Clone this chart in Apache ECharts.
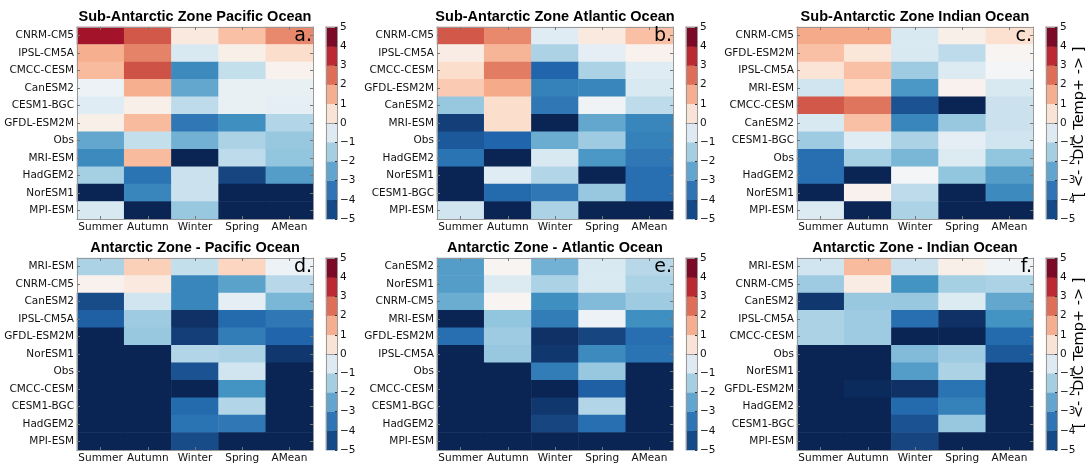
<!DOCTYPE html>
<html>
<head>
<meta charset="utf-8">
<script src="https://cdn.jsdelivr.net/npm/echarts@6/dist/echarts.min.js"></script>
<style>
  html, body { margin: 0; background: #fff; }
  #chart { width: 1091px; height: 466px; }
</style>
</head>
<body>
<div id="chart"></div>
<script>
const seasons = ["Summer", "Autumn", "Winter", "Spring", "AMean"];

const titles = [
  "Sub-Antarctic Zone Pacific Ocean",
  "Sub-Antarctic Zone Atlantic Ocean",
  "Sub-Antarctic Zone Indian Ocean",
  "Antarctic Zone - Pacific Ocean",
  "Antarctic Zone - Atlantic Ocean",
  "Antarctic Zone - Indian Ocean",
];
const letters = ["a.", "b.", "c.", "d.", "e.", "f."];
const sideLabel = "[ <- -DIC Temp+ -> ]";

// rows top to bottom, values per season
const rowsA = ["CNRM-CM5", "IPSL-CM5A", "CMCC-CESM", "CanESM2", "CESM1-BGC", "GFDL-ESM2M", "Obs", "MRI-ESM", "HadGEM2", "NorESM1", "MPI-ESM"];
const valsA = [
  [4.2, 3.1, 0.5, 1.5, 2.4],
  [1.8, 2.5, -0.8, 0.3, 0.9],
  [1.6, 3.2, -3.2, -1.2, 0.2],
  [-0.3, 1.8, -2.6, -0.4, -0.4],
  [-0.6, 0.3, -1.3, -0.4, -0.5],
  [0.3, 1.6, -3.6, -3.1, -1.5],
  [-2.6, -1.2, -2.4, -1.6, -1.9],
  [-3.2, 1.6, -5, -1.3, -2.0],
  [-1.7, -3.7, -1.1, -4.5, -2.8],
  [-5, -3.3, -1.1, -5, -5],
  [-0.8, -5, -1.9, -5, -5],
];

const rowsB = ["CNRM-CM5", "IPSL-CM5A", "CMCC-CESM", "GFDL-ESM2M", "CanESM2", "MRI-ESM", "Obs", "HadGEM2", "NorESM1", "CESM1-BGC", "MPI-ESM"];
const valsB = [
  [3.1, 2.4, -0.6, 0.5, 1.5],
  [0.4, 1.7, -1.6, -0.5, 0.2],
  [0.9, 2.6, -4.0, -1.6, -0.6],
  [1.3, 1.9, -3.4, -3.3, -0.8],
  [-1.9, 0.9, -3.6, -0.2, -1.3],
  [-4.6, 0.9, -5, -2.6, -3.3],
  [-4.2, -4.0, -2.5, -1.8, -3.4],
  [-3.7, -5, -0.8, -2.9, -3.6],
  [-5, -0.6, -1.5, -5, -3.8],
  [-5, -3.9, -3.6, -1.9, -3.8],
  [-1.0, -5, -1.6, -5, -5],
];

const rowsC = ["CNRM-CM5", "GFDL-ESM2M", "IPSL-CM5A", "MRI-ESM", "CMCC-CESM", "CanESM2", "CESM1-BGC", "Obs", "HadGEM2", "NorESM1", "MPI-ESM"];
const valsC = [
  [1.9, 1.9, -0.8, 0.3, 0.8],
  [1.5, 0.6, -0.8, -1.3, 0.1],
  [0.7, 1.5, -1.8, -0.7, -0.1],
  [-1.0, 1.0, -2.9, 0.2, -0.8],
  [3.1, 2.7, -4.3, -5, -1.1],
  [-0.8, 1.5, -3.3, -1.9, -1.1],
  [-1.8, -0.6, -1.6, -0.5, -1.0],
  [-3.8, -1.7, -2.3, -0.7, -2.0],
  [-3.8, -5, -0.1, -2.0, -2.8],
  [-5, 0.2, -1.3, -5, -3.2],
  [-0.7, -5, -1.6, -5, -5],
];

const rowsD = ["MRI-ESM", "CNRM-CM5", "CanESM2", "IPSL-CM5A", "GFDL-ESM2M", "NorESM1", "Obs", "CMCC-CESM", "CESM1-BGC", "HadGEM2", "MPI-ESM"];
const valsD = [
  [-1.6, 1.2, -1.2, 1.1, -0.3],
  [0.2, 0.5, -3.3, -2.7, -1.4],
  [-4.4, -1.0, -3.3, -0.5, -2.3],
  [-4.1, -1.8, -4.8, -3.9, -3.6],
  [-5, -1.9, -4.6, -3.5, -4.0],
  [-5, -5, -1.5, -1.6, -4.7],
  [-5, -5, -4.3, -1.0, -5],
  [-5, -5, -5, -3.0, -5],
  [-5, -5, -3.9, -1.5, -5],
  [-5, -5, -3.7, -3.6, -5],
  [-5, -5, -4.4, -5, -5],
];

const rowsE = ["CanESM2", "NorESM1", "CNRM-CM5", "MRI-ESM", "GFDL-ESM2M", "IPSL-CM5A", "Obs", "CMCC-CESM", "CESM1-BGC", "HadGEM2", "MPI-ESM"];
const valsE = [
  [-2.8, 0.1, -2.4, -0.8, -1.4],
  [-2.8, -0.7, -1.6, -0.8, -1.6],
  [-2.5, 0.1, -3.1, -2.2, -1.8],
  [-5, -2.0, -3.5, -0.3, -3.1],
  [-3.8, -1.8, -4.8, -4.5, -3.8],
  [-5, -1.9, -4.7, -3.2, -3.7],
  [-5, -5, -3.5, -1.9, -5],
  [-5, -5, -5, -4.1, -5],
  [-5, -5, -4.7, -1.5, -5],
  [-5, -5, -4.5, -3.8, -5],
  [-5, -5, -5, -5, -5],
];

const rowsF = ["MRI-ESM", "CNRM-CM5", "CanESM2", "IPSL-CM5A", "CMCC-CESM", "Obs", "NorESM1", "GFDL-ESM2M", "HadGEM2", "CESM1-BGC", "MPI-ESM"];
const valsF = [
  [-1.0, 1.6, -1.1, 0.3, -0.2],
  [-1.8, 0.4, -3.0, -1.7, -1.6],
  [-4.7, -1.9, -1.9, -0.7, -2.6],
  [-1.6, -1.8, -3.8, -4.8, -3.0],
  [-1.6, -1.8, -5, -5, -3.9],
  [-5, -5, -2.2, -1.8, -4.2],
  [-5, -5, -2.8, -1.6, -5],
  [-5, -4.9, -4.8, -3.7, -5],
  [-5, -5, -3.9, -3.4, -5],
  [-5, -5, -4.3, -1.9, -5],
  [-5, -5, -4.5, -5, -5],
];

// colour bar: bin edges and bin centres
const cbarTicks = [-5, -4, -3, -2, -1, 0, 1, 2, 3, 4, 5];
const cbarLevels = [-4.5, -3.5, -2.5, -1.5, -0.5, 0.5, 1.5, 2.5, 3.5, 4.5];

const panelRows = [rowsA, rowsB, rowsC, rowsD, rowsE, rowsF];
const panelVals = [valsA, valsB, valsC, valsD, valsE, valsF];

// RdBu_r
const cellColors = ["#0a2454", "#2166ac", "#4393c3", "#92c5de", "#d1e5f0", "#f7f7f7",
                    "#fddbc7", "#f4a582", "#d6604d", "#b2182b", "#67001f"];
const cbarColors = ["#154a88", "#2f74b5", "#62a6cf", "#a6cee3", "#dee9f1",
                    "#f9e3d7", "#f5af90", "#de6e58", "#bb2a33", "#7b0a26"];

const colLeft = [77, 437, 797];
const rowTop = [27, 258];
const plotW = 236, plotH = 192;
const cbarOff = 249, cbarW = 11;
const tickFont = "DejaVu Sans";
const frame = { show: true, lineStyle: { color: "#999", width: 1 } };
const innerTick = { show: true, inside: true, length: 3, alignWithLabel: true, interval: 0,
                    lineStyle: { color: "#777" } };

const grid = [], xAxis = [], yAxis = [], series = [], graphic = [];

for (let p = 0; p < 6; p++) {
  const left = colLeft[p % 3], top = rowTop[Math.floor(p / 3)];
  const g = grid.length;
  grid.push({ left, top, width: plotW, height: plotH });
  const xi = xAxis.length;
  xAxis.push({
    type: "category", gridIndex: g, data: seasons, position: "bottom", z: 5,
    axisLine: frame, axisTick: innerTick, splitLine: { show: false },
    axisLabel: { interval: 0, margin: 3, fontSize: 10.5, color: "#111", fontFamily: tickFont },
  });
  xAxis.push({
    type: "category", gridIndex: g, data: seasons, position: "top", z: 5,
    axisLine: frame, axisTick: innerTick, axisLabel: { show: false },
  });
  const yi = yAxis.length;
  yAxis.push({
    type: "category", gridIndex: g, data: panelRows[p], inverse: true, z: 5,
    axisLine: frame, axisTick: innerTick, splitLine: { show: false },
    axisLabel: { interval: 0, margin: 3, fontSize: 10.5, color: "#111", fontFamily: tickFont },
  });
  yAxis.push({
    type: "category", gridIndex: g, data: panelRows[p], inverse: true, position: "right", z: 5,
    axisLine: frame, axisLabel: { show: false }, axisTick: innerTick,
  });
  const data = [];
  panelVals[p].forEach((row, r) => row.forEach((v, c) => data.push([c, r, v])));
  series.push({
    type: "heatmap", xAxisIndex: xi, yAxisIndex: yi, data,
    emphasis: { disabled: true }, itemStyle: { borderWidth: 0 },
  });

  graphic.push({
    type: "text", x: left + plotW / 2, y: top - 10,
    style: { text: titles[p], font: 'bold 14.5px "Liberation Sans"', fill: "#000",
             textAlign: "center", textVerticalAlign: "middle" },
  });
  graphic.push({
    type: "text", x: left + plotW - 1, y: top + 9, z: 10,
    style: { text: letters[p], font: '19px "DejaVu Sans"', fill: "#000",
             textAlign: "right", textVerticalAlign: "middle" },
  });
}

for (let p = 0; p < 6; p++) {
  const left = colLeft[p % 3] + cbarOff, top = rowTop[Math.floor(p / 3)];
  const g = grid.length;
  grid.push({ left, top, width: cbarW, height: plotH });
  const xi = xAxis.length;
  xAxis.push({ type: "category", gridIndex: g, data: ["cb"], position: "bottom", z: 5,
    axisLine: frame, axisTick: { show: false }, axisLabel: { show: false } });
  xAxis.push({ type: "category", gridIndex: g, data: ["cb"], position: "top", z: 5,
    axisLine: frame, axisTick: { show: false }, axisLabel: { show: false } });
  const yi = yAxis.length;
  yAxis.push({ type: "category", gridIndex: g, data: cbarLevels.map(String), z: 5,
    axisLine: frame, axisTick: { show: false }, axisLabel: { show: false } });
  yAxis.push({
    type: "value", gridIndex: g, position: "right", min: -5, max: 5, interval: 1, z: 5,
    axisLine: frame, splitLine: { show: false },
    axisTick: { show: true, inside: true, length: 2, lineStyle: { color: "#333" } },
    axisLabel: { margin: 3, fontSize: 10.5, color: "#111", fontFamily: tickFont,
                 formatter: (v) => (v < 0 ? "\u2212" + -v : String(v)) },
  });
  series.push({
    type: "heatmap", xAxisIndex: xi, yAxisIndex: yi,
    data: cbarLevels.map((v, i) => [0, i, v]),
    emphasis: { disabled: true },
  });
}

for (let r = 0; r < 2; r++) {
  graphic.push({
    type: "text", x: 1079, y: rowTop[r] + plotH / 2 - 1, rotation: Math.PI / 2,
    style: { text: sideLabel, font: '14.5px "DejaVu Sans"', fill: "#000",
             textAlign: "center", textVerticalAlign: "middle" },
  });
}

const chart = echarts.init(document.getElementById("chart"));
chart.setOption({
  animation: false,
  grid, xAxis, yAxis, series, graphic,
  visualMap: [
    { type: "continuous", show: false, seriesIndex: [0, 1, 2, 3, 4, 5],
      min: -5, max: 5, inRange: { color: cellColors } },
    { type: "piecewise", show: false, seriesIndex: [6, 7, 8, 9, 10, 11],
      pieces: cbarColors.map((c, i) => ({ gte: cbarTicks[i], lt: cbarTicks[i + 1], color: c })) },
  ],
});
</script>
</body>
</html>
